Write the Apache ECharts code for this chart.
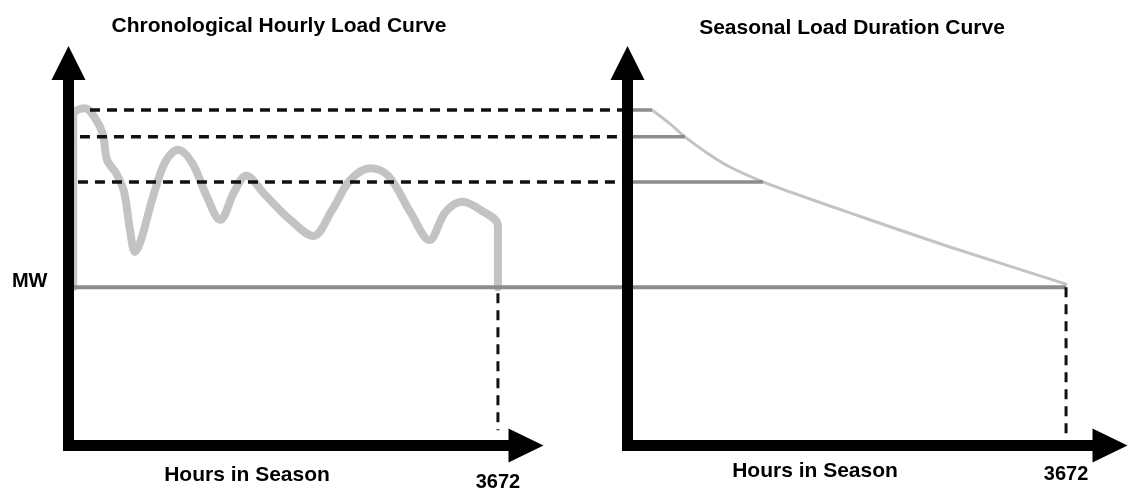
<!DOCTYPE html>
<html><head><meta charset="utf-8">
<script src="https://cdn.jsdelivr.net/npm/echarts@6/dist/echarts.min.js"></script>
<style>html,body{margin:0;padding:0;background:#fff}#c{width:1130px;height:489px}</style>
</head><body><div id="c"></div>
<script>
// ---- data ----
const seasonHours = 3672;
const baseMW = 41.4;
const loadHours = [40,40,141,227,295,330,407,475,526,569,620,715,826,937,1057,1177,1297,1417,1519,1682,1896,2093,2255,2409,2581,2735,2923,3086,3223,3368,3522,3672,3672];
const loadMW    = [41.4,86.4,88.2,85.6,81.2,74.6,71.2,66.3,56.3,50.6,53.7,64.2,74.1,77.3,73.9,65.5,59.0,66.3,70.5,65.5,59.0,54.8,61.6,69.4,72.5,70.5,61.0,53.7,61.0,63.7,61.6,57.4,41.4];
const durHours = [205,356,481,666,858,1135,1361,1863,2700,3672];
const durMW    = [87.7,84.1,80.7,76.5,72.8,68.9,66.3,60.8,51.9,42.2];
const levelMW = [87.7,80.7,68.9];
const levelStartHours = [184,98,81];
const levelDurHours = [205,481,1135];
const linkHours = 4785;          // position of the right panel's MW axis, in left-panel hours
const titles = ['Chronological Hourly Load Curve','Seasonal Load Duration Curve'];
const xName = 'Hours in Season';
const yName = 'MW';
const yNameAt = 42.8;            // MW label sits just above the reference line

// ---- chart ----
const FONT = 'Liberation Sans';
const chart = echarts.init(document.getElementById('c'), null, {renderer:'canvas'});
const axisLine = (len) => ({show:true, onZero:false, symbol:['none','triangle'], symbolSize:[34,len],
  lineStyle:{color:'#000', width:11, cap:'square'}});
const lbl = (extra) => Object.assign({color:'#000', fontFamily:FONT, fontWeight:'bold', fontSize:20}, extra);

function xAx(gi, max, margin){
  return {type:'value', gridIndex:gi, min:0, max:max, z:10, axisLine:axisLine(35),
    axisTick:{show:false}, splitLine:{show:false},
    axisLabel:lbl({customValues:[seasonHours], margin:margin, formatter:(v)=>String(v)})};
}
function yAx(gi, showName){
  return {type:'value', gridIndex:gi, min:0, max:100, z:10, axisLine:axisLine(34),
    axisTick:{show:false}, splitLine:{show:false},
    axisLabel: showName ? lbl({customValues:[yNameAt], margin:21, formatter:()=>yName}) : {show:false}};
}
function seg(gi, pts, color, width, dash){
  return {type:'line', xAxisIndex:gi, yAxisIndex:gi, data:pts, symbol:'none', silent:true,
    lineStyle:{color:color, width:width, type:dash || 'solid', cap:'butt'}, z:4};
}
const series = [];
// MW reference line: left panel through to right axis (link grid), then right panel
series.push(seg(2, [[0,baseMW],[linkHours,baseMW]], '#8c8c8c', 4));
series.push(seg(1, [[0,baseMW],[seasonHours,baseMW]], '#8c8c8c', 4));
series.push({type:'line', xAxisIndex:0, yAxisIndex:0, symbol:'none', smooth:0.35, silent:true,
  data: loadHours.map((h,i)=>[h, loadMW[i]]),
  lineStyle:{color:'#c3c3c3', width:8, cap:'round', join:'round'}, z:3});
series.push({type:'line', xAxisIndex:1, yAxisIndex:1, symbol:'none', smooth:0.3, silent:true,
  data: durHours.map((h,i)=>[h, durMW[i]]),
  lineStyle:{color:'#c3c3c3', width:3, cap:'round', join:'round'}, z:3});
levelMW.forEach((v,i)=>{
  series.push(seg(2, [[levelStartHours[i],v],[linkHours,v]], '#111', 3.5, [10,7]));
  series.push(seg(1, [[0,v],[levelDurHours[i],v]], '#8c8c8c', 3.5));
});
series.push(seg(0, [[seasonHours, baseMW-1.6],[seasonHours, 4]], '#111', 3, [10,7]));
series.push(seg(1, [[seasonHours, baseMW],[seasonHours, 0]], '#111', 3, [10,7]));

const tStyle = {color:'#000', fontFamily:FONT, fontWeight:'bold', fontSize:21};
const hidden = (gi, max) => ({type:'value', gridIndex:gi, min:0, max:max, show:false});
chart.setOption({
  animation:false,
  backgroundColor:'#fff',
  title:[
    {text:titles[0], left:279, top:15.5, textAlign:'center', padding:0, textStyle:tStyle},
    {text:titles[1], left:852, top:17.5, textAlign:'center', padding:0, textStyle:tStyle},
    {text:xName, left:247, top:465, textAlign:'center', padding:0, textStyle:tStyle},
    {text:xName, left:815, top:460.5, textAlign:'center', padding:0, textStyle:tStyle}
  ],
  grid:[
    {left:68.5, right:604, top:63, bottom:43.5, outerBoundsMode:'none'},
    {left:627.5, right:20, top:63, bottom:43.5, outerBoundsMode:'none'},
    {left:68.5, right:502.5, top:63, bottom:43.5, outerBoundsMode:'none'}
  ],
  xAxis:[xAx(0, 3912, 27), xAx(1, 4040, 19), hidden(2, linkHours)],
  yAxis:[yAx(0, true), yAx(1, false), hidden(2, 100)],
  series: series
});
</script></body></html>
